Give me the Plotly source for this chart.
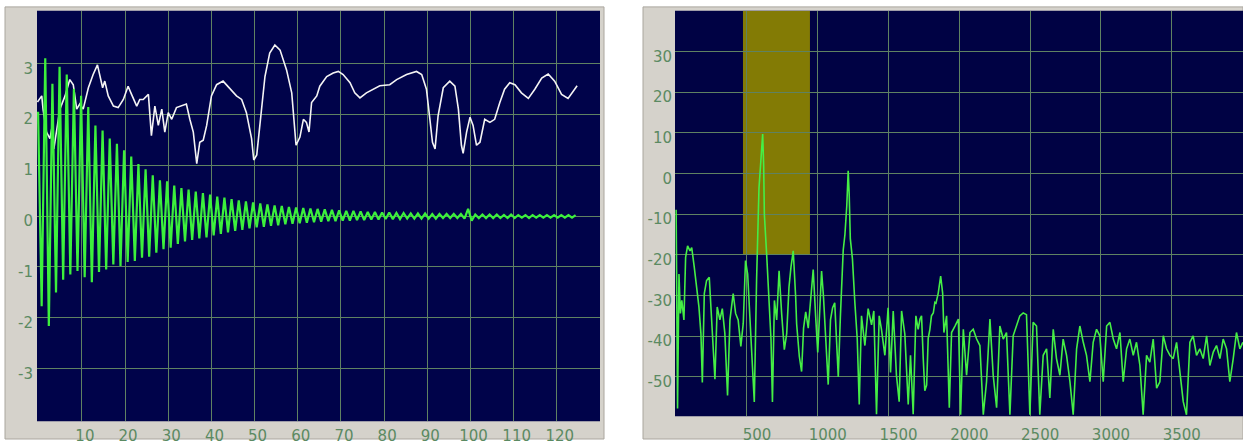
import plotly.graph_objects as go

# ---------------- data: left panel (time domain, ms) ----------------
# decaying oscillation: successive positive peaks and negative troughs
green_peaks = [2.05, 3.10, 2.60, 2.93, 2.78, 2.50, 2.36, 2.14, 1.78, 1.68,
               1.52, 1.42, 1.29, 1.17, 1.02, 0.92, 0.80, 0.70, 0.68, 0.60,
               0.55, 0.52, 0.48, 0.45, 0.42, 0.38, 0.36, 0.33, 0.31, 0.29,
               0.27, 0.25, 0.23, 0.21, 0.20, 0.18, 0.17, 0.16, 0.15, 0.14,
               0.13, 0.12, 0.11, 0.10, 0.10, 0.09, 0.08, 0.08, 0.07, 0.07,
               0.06, 0.06, 0.05, 0.05, 0.05, 0.04, 0.04, 0.04, 0.04, 0.04,
               0.14, 0.03, 0.03, 0.03, 0.03, 0.02, 0.03, 0.02, 0.02, 0.02,
               0.02, 0.02, 0.02, 0.02, 0.02, 0.02]
green_troughs = [-1.77, -2.16, -1.50, -1.25, -1.15, -1.08, -1.20, -1.30, -1.10, -1.05,
                 -0.95, -0.98, -0.90, -0.88, -0.82, -0.80, -0.72, -0.65, -0.62, -0.55,
                 -0.50, -0.47, -0.44, -0.42, -0.38, -0.35, -0.32, -0.29, -0.27, -0.24,
                 -0.22, -0.21, -0.19, -0.18, -0.16, -0.15, -0.14, -0.13, -0.12, -0.11,
                 -0.10, -0.10, -0.09, -0.09, -0.08, -0.08, -0.07, -0.07, -0.06, -0.06,
                 -0.06, -0.05, -0.05, -0.05, -0.05, -0.05, -0.04, -0.04, -0.04, -0.05,
                 -0.09, -0.04, -0.04, -0.04, -0.04, -0.04, -0.04, -0.03, -0.04, -0.03,
                 -0.03, -0.03, -0.03, -0.03, -0.03]
green_t0 = -0.15        # ms, time of first peak
green_period = 1.66     # ms, oscillation period

white_t = [-0.3, 0.7, 1.0, 1.8, 2.6, 3.0, 3.5, 4.1, 4.9, 6.1, 7.2, 8.0, 8.8, 9.5,
           10.3, 11.5, 12.6, 13.6, 14.2, 14.8, 15.3, 16.1, 17.3, 18.4, 19.6, 20.7,
           21.5, 22.7, 23.4, 24.2, 25.4, 26.1, 26.9, 27.7, 28.5, 29.2, 30.0, 30.8,
           31.9, 34.2, 35.0, 35.8, 36.6, 37.3, 38.1, 38.9, 40.0, 41.2, 42.7, 44.3,
           45.8, 47.0, 48.1, 49.3, 49.8, 50.5, 51.2, 52.4, 53.5, 54.7, 55.9, 57.4,
           58.6, 59.6, 60.5, 61.3, 62.0, 62.6, 63.2, 64.4, 65.1, 66.7, 68.2, 69.4,
           70.5, 72.1, 73.2, 74.4, 75.9, 77.5, 79.0, 81.3, 82.9, 85.2, 87.5, 88.7,
           89.8, 90.6, 91.2, 91.8, 92.5, 93.7, 95.2, 96.4, 97.2, 97.9, 98.3, 99.1,
           99.9, 100.6, 101.4, 102.2, 103.3, 104.5, 105.6, 106.8, 107.9, 109.1,
           110.3, 111.8, 113.4, 114.9, 116.5, 118.0, 119.5, 121.1, 122.6, 123.8, 124.7]
white_v = [2.24, 2.36, 2.10, 1.65, 1.52, 1.71, 1.32, 1.65, 2.10, 2.36, 2.68, 2.58, 2.10, 2.20,
           2.10, 2.52, 2.78, 2.97, 2.74, 2.52, 2.65, 2.36, 2.16, 2.13, 2.29, 2.55,
           2.39, 2.16, 2.29, 2.29, 2.39, 1.58, 2.16, 1.78, 2.10, 1.65, 2.03, 1.90,
           2.13, 2.20, 1.90, 1.65, 1.03, 1.45, 1.49, 1.78, 2.36, 2.58, 2.65, 2.49,
           2.36, 2.29, 2.03, 1.52, 1.10, 1.20, 1.78, 2.74, 3.20, 3.36, 3.26, 2.87,
           2.42, 1.39, 1.55, 1.90, 1.84, 1.65, 2.23, 2.36, 2.55, 2.74, 2.81, 2.84,
           2.78, 2.62, 2.42, 2.32, 2.42, 2.49, 2.56, 2.58, 2.68, 2.78, 2.84, 2.78,
           2.49, 1.90, 1.45, 1.32, 1.97, 2.52, 2.65, 2.55, 2.10, 1.39, 1.23, 1.65,
           1.94, 1.78, 1.39, 1.45, 1.90, 1.84, 1.90, 2.23, 2.49, 2.62,
           2.58, 2.42, 2.31, 2.49, 2.71, 2.79, 2.65, 2.39, 2.31, 2.45, 2.56]

left_xticks = [10, 20, 30, 40, 50, 60, 70, 80, 90, 100, 110, 120]
left_yticks = [3, 2, 1, 0, -1, -2, -3]

# ---------------- data: right panel (spectrum, Hz / dB) ----------------
spec_freq = [0, 5, 10, 20, 30, 40, 55, 67, 81, 98, 110, 128, 145, 161, 175, 185, 199,
             215, 234, 246, 262, 274, 290, 309, 326, 344, 363, 380, 403, 420, 438,
             457, 474, 490, 505, 521, 538, 552, 568, 585, 598, 611, 618, 623, 639,
             656, 670, 680, 694, 710, 727, 745, 764, 781, 797, 811, 827, 844, 851,
             870, 886, 900, 915, 933, 950, 968, 985, 1000, 1015, 1027, 1040, 1055,
             1074, 1090, 1105, 1120, 1135, 1145, 1160, 1170, 1180, 1192, 1205, 1215,
             1222, 1230, 1245, 1262, 1279, 1293, 1309, 1333, 1356, 1380, 1396, 1415,
             1434, 1450, 1474, 1497, 1514, 1533, 1556, 1575, 1592, 1615, 1639, 1655,
             1674, 1693, 1709, 1722, 1733, 1745, 1756, 1769, 1780, 1792, 1803, 1816,
             1827, 1835, 1851, 1868, 1882, 1891, 1910, 1929, 1945, 1969, 1993, 2009,
             2028, 2051, 2075, 2098, 2122, 2145, 2169, 2192, 2216, 2239, 2263, 2286,
             2310, 2333, 2357, 2380, 2404, 2427, 2451, 2474, 2498, 2521, 2545, 2568,
             2592, 2616, 2639, 2663, 2686, 2710, 2733, 2757, 2781, 2804, 2828, 2851,
             2875, 2898, 2922, 2945, 2969, 2992, 3016, 3040, 3063, 3087, 3110, 3134,
             3157, 3181, 3204, 3228, 3251, 3275, 3298, 3322, 3345, 3369, 3393, 3416,
             3440, 3463, 3487, 3510, 3534, 3557, 3581, 3604, 3628, 3651, 3675, 3698,
             3722, 3746, 3769, 3793, 3816, 3840, 3863, 3887, 3910, 3934, 3957, 3981, 4002]
spec_db = [-8.9, -40.0, -57.8, -24.7, -34.4, -31.2, -36.0, -20.6, -17.8, -19.0, -18.2, -23.0,
           -27.9, -32.8, -39.3, -51.4, -29.5, -26.3, -25.5, -32.8, -42.5, -50.6, -32.8, -36.0,
           -33.2, -39.3, -54.6, -36.0, -29.5, -34.4, -36.0, -42.5, -36.8, -21.4, -24.7, -34.4,
           -45.7, -56.2, -26.3, -3.6, 3.0, 9.7, 2.0, -10.0, -19.7, -30.3, -40.8, -56.2, -31.2,
           -36.0, -23.9, -34.4, -43.3, -39.3, -27.9, -23.0, -19.0, -30.3, -37.0, -45.0, -48.7,
           -38.0, -34.0, -38.0, -30.0, -23.6, -35.0, -44.0, -33.0, -24.0, -30.0, -40.0, -51.9,
           -36.0, -33.0, -31.8, -42.0, -50.0, -35.0, -28.0, -18.8, -15.0, -8.0, 0.7, -5.0,
           -16.0, -21.0, -31.7, -40.7, -56.8, -35.0, -42.3, -33.2, -37.2, -33.8, -59.2, -35.0,
           -38.3, -44.7, -33.0, -48.9, -33.8, -49.7, -56.1, -33.8, -39.5, -56.8, -44.7, -59.2,
           -35.0, -38.3, -35.8, -35.0, -45.5, -53.4, -52.0, -40.5, -38.3, -35.0, -34.3, -31.7,
           -31.9, -29.4, -25.2, -29.4, -39.1, -35.0, -57.6, -39.1, -37.5, -35.8, -59.3, -38.3,
           -49.6, -39.1, -38.3, -40.7, -42.3, -59.3, -51.2, -35.8, -49.6, -57.6, -37.5, -40.7,
           -39.1, -59.3, -39.9, -37.5, -35.0, -34.3, -34.7, -59.3, -36.6, -37.5, -59.3, -44.7,
           -43.1, -55.2, -38.3, -45.5, -49.6, -40.7, -44.7, -51.2, -59.3, -43.1, -37.5, -41.5,
           -44.7, -51.2, -41.5, -38.3, -39.9, -51.2, -37.5, -36.6, -40.7, -43.1, -39.1, -51.2,
           -43.1, -40.7, -44.7, -41.5, -47.2, -59.3, -44.7, -46.4, -40.7, -52.8, -51.2, -39.9,
           -43.1, -44.7, -45.5, -41.5, -48.8, -56.1, -59.3, -41.5, -39.9, -44.7, -43.1, -45.5,
           -39.9, -47.2, -43.9, -42.3, -45.5, -40.7, -43.1, -51.2, -45.5, -39.1, -43.1, -41.5]

band_freq = [472, 945]     # highlighted band (Hz)
band_db = [-20, 40]

right_xticks = [500, 1000, 1500, 2000, 2500, 3000, 3500]
right_yticks = [30, 20, 10, 0, -10, -20, -30, -40, -50]

# ---------------- build waveform polyline from peaks/troughs ----------------
wave_t, wave_v = [], []
for i, pk in enumerate(green_peaks):
    wave_t.append(green_t0 + i * green_period)
    wave_v.append(pk)
    if i < len(green_troughs):
        wave_t.append(green_t0 + (i + 0.5) * green_period)
        wave_v.append(green_troughs[i])

W, H = 1243, 445
NAVY = "#00034a"
NAVY2 = "#000244"
GRID = "#5f8262"
TICKC = "#5b8a62"
FRAME = "#d5d2cb"
FONT = dict(family="DejaVu Sans", size=15, color=TICKC)

fig = go.Figure()
fig.add_trace(go.Scatter(x=white_t, y=white_v, mode="lines", xaxis="x", yaxis="y",
                         line=dict(color="#f4f4f4", width=1.6), hoverinfo="skip"))
fig.add_trace(go.Scatter(x=wave_t, y=wave_v, mode="lines", xaxis="x", yaxis="y",
                         line=dict(color="#3cf03c", width=2.2), hoverinfo="skip"))
fig.add_trace(go.Scatter(x=spec_freq, y=spec_db, mode="lines", xaxis="x2", yaxis="y2",
                         line=dict(color="#45ee45", width=1.6), hoverinfo="skip"))

shapes = [
    dict(type="rect", xref="paper", yref="paper", x0=5 / W, x1=604 / W, y0=0, y1=(H - 7) / H,
         fillcolor=FRAME, line=dict(color="#aaa69e", width=1), layer="below"),
    dict(type="rect", xref="paper", yref="paper", x0=643 / W, x1=1.0, y0=0, y1=(H - 7) / H,
         fillcolor=FRAME, line=dict(color="#aaa69e", width=1), layer="below"),
    dict(type="rect", xref="x domain", yref="y domain", x0=0, x1=1, y0=0, y1=1,
         fillcolor=NAVY, line=dict(width=0), layer="below"),
    dict(type="rect", xref="x2 domain", yref="y2 domain", x0=0, x1=1, y0=0, y1=1,
         fillcolor=NAVY2, line=dict(width=0), layer="below"),
    dict(type="rect", xref="x2", yref="y2", x0=band_freq[0], x1=band_freq[1],
         y0=band_db[0], y1=band_db[1], fillcolor="#837b05", line=dict(width=0), layer="below"),
]

axis_common = dict(showgrid=True, gridcolor=GRID, gridwidth=1, zeroline=False,
                   showline=False, ticks="", tickfont=FONT, fixedrange=True)

fig.update_layout(
    width=W, height=H,
    margin=dict(l=0, r=0, t=0, b=0),
    paper_bgcolor="white",
    plot_bgcolor=NAVY,
    showlegend=False,
    shapes=shapes,
    xaxis=dict(domain=[37 / W, 600 / W], range=[-0.4, 130], tickvals=left_xticks,
               ticktext=[str(v) for v in left_xticks],
               ticklabelshift=3, ticklabelstandoff=4, anchor="y", **axis_common),
    yaxis=dict(domain=[(H - 427) / H, (H - 11) / H], range=[-4.03, 4.03], tickvals=left_yticks,
               ticktext=[str(v) for v in left_yticks],
               ticklabelshift=5, ticklabelstandoff=3, anchor="x", **axis_common),
    xaxis2=dict(domain=[675 / W, 1.0], range=[-8, 4003], tickvals=right_xticks,
                ticktext=[str(v) for v in right_xticks],
                ticklabelshift=10, ticklabelstandoff=8, anchor="y2", **axis_common),
    yaxis2=dict(domain=[(H - 422) / H, (H - 11) / H], range=[-59.7, 40], tickvals=right_yticks,
                ticktext=[str(v) for v in right_yticks],
                ticklabelshift=5, ticklabelstandoff=2, anchor="x2", **axis_common),
)

fig.write_html("out.html", config={"displayModeBar": False},
               post_script="document.body.style.margin='0';document.body.style.padding='0';")
